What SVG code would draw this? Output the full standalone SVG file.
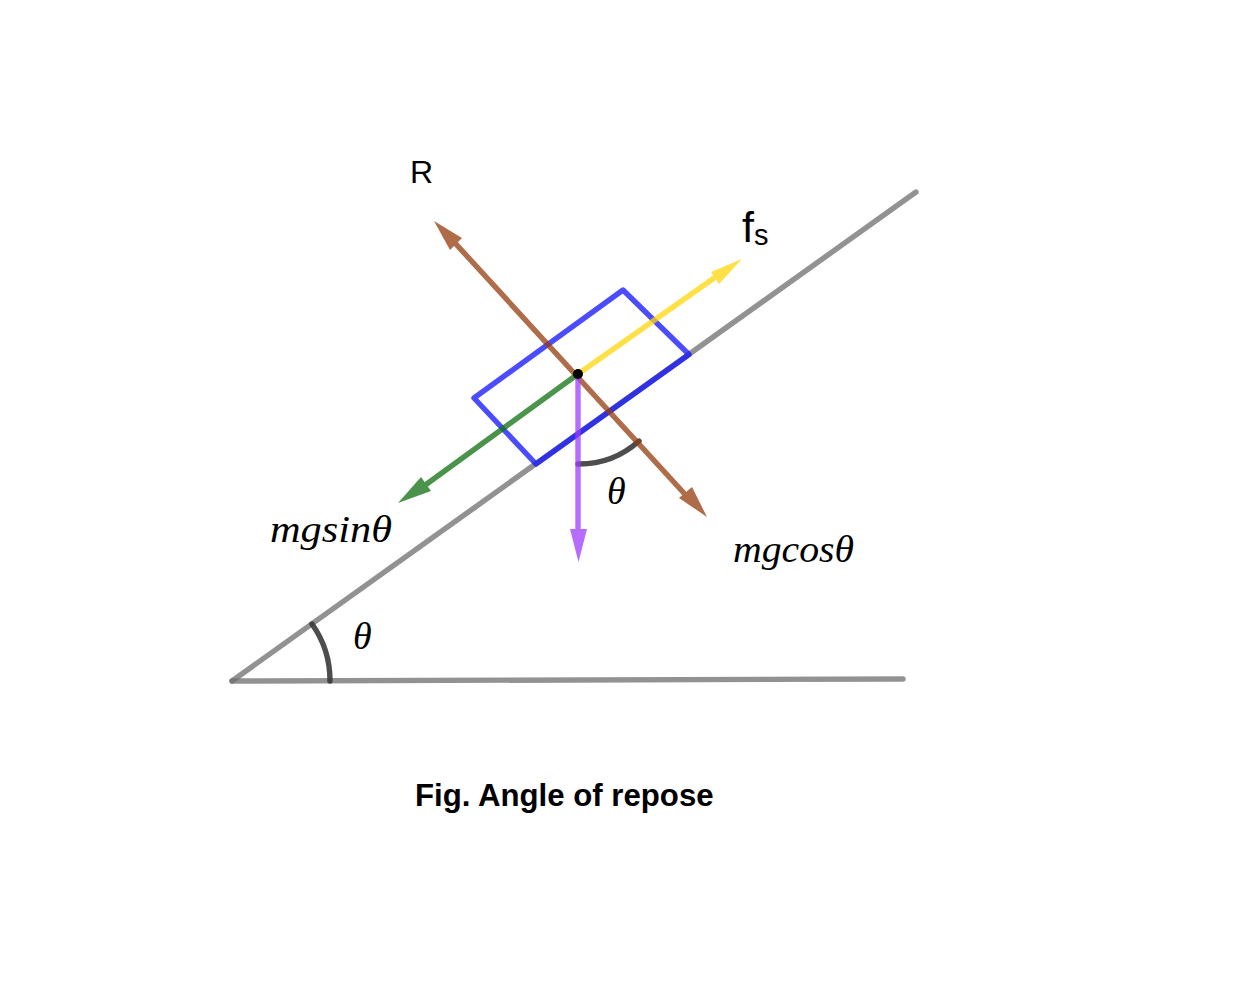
<svg xmlns="http://www.w3.org/2000/svg" width="1241" height="989" viewBox="0 0 1241 989">
<style>
.ln{fill:none;stroke-width:5.4;stroke-linecap:round;stroke-linejoin:round}
.incline{stroke:#6e6e6e;opacity:.75}
.arc{stroke:#3a3a3a;opacity:.9}
.math{font-family:"Liberation Serif","DejaVu Serif",serif;font-style:italic;font-size:38px;fill:#000}
.sans{font-family:"Liberation Sans",Arial,sans-serif;fill:#000}
</style>
<rect width="1241" height="989" fill="#fff"/>
<g id="incline">
<path class="ln incline" d="M232 681L916 192"/>
<path class="ln incline" d="M232 681L903 679"/>
</g>
<g id="block"><path class="ln" stroke="#1010ff" opacity=".75" d="M474 398L623 290L689 354.5L536 464Z"/></g>
<g id="angles">
<path class="ln arc" d="M312 624A98 98 0 0 1 330 681"/>
<path class="ln arc" d="M578 464A90 90 0 0 0 639 441"/>
</g>
<g id="connectors">
<g opacity=".75" fill="#943c0c"><path class="ln" stroke="#943c0c" d="M455 243L693 503"/><polygon points="434,221 462,238 450,250"/><polygon points="707,517 679,498 692,487"/></g>
<g opacity=".75" fill="#ffd60a"><path class="ln" stroke="#ffd60a" d="M578 374L717 276"/><polygon points="742,259 711,272 719,284"/></g>
<g opacity=".75" fill="#0f7010"><path class="ln" stroke="#0f7010" d="M578 374L424 486"/><polygon points="398,503 421,477 431,491"/></g>
<g opacity=".75" fill="#9d3cff"><path class="ln" stroke="#9d3cff" d="M578 374L578 532"/><polygon points="578.5,562 570,529 587,529"/></g>
</g>
<circle id="pivot" cx="578" cy="374" r="5" fill="#000"/>
<g id="labels">
<text class="sans" x="410" y="183" font-size="32">R</text>
<text class="sans" x="742" y="242" font-size="43">f<tspan font-size="29" dy="3">s</tspan></text>
<text class="math" x="270" y="542" textLength="122" lengthAdjust="spacingAndGlyphs">mgsinθ</text>
<text class="math" x="733" y="562" textLength="121" lengthAdjust="spacingAndGlyphs">mgcosθ</text>
<text class="math" x="607" y="504">θ</text>
<text class="math" x="353" y="649">θ</text>
<text class="sans" x="415" y="806" font-size="31.2" font-weight="700">Fig. Angle of repose</text>
</g>
</svg>
